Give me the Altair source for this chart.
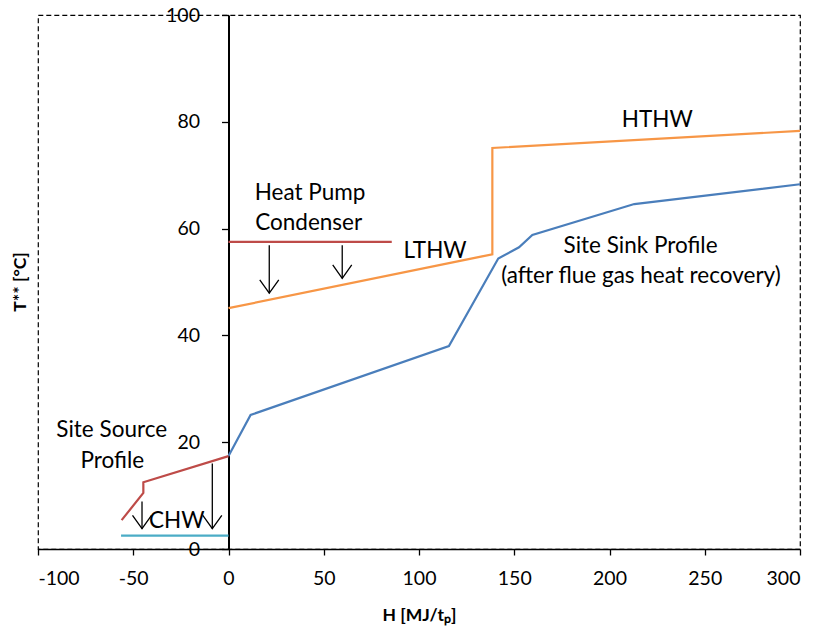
import altair as alt
import pandas as pd

# Site sink profile (after flue gas heat recovery)
sink_h = [0, 11.6, 115.7, 141.6, 152.5, 159.5, 213, 300]
sink_t = [17.4, 25.1, 38.0, 54.4, 56.5, 58.8, 64.6, 68.3]

# LTHW -> HTHW supply profile
water_h = [0, 138.5, 138.5, 300]
water_t = [45.1, 55.2, 75.1, 78.3]

# Site source profile
source_h = [0, -44.7, -44.7, -56.1]
source_t = [17.4, 12.5, 10.5, 5.4]

# Chilled water
chw_h = [-56.4, 0]
chw_t = [2.5, 2.5]

# Heat pump condenser
cond_h = [0, 85.7]
cond_t = [57.5, 57.5]

# Heat transfer arrows (shaft top and tip)
arrow_h = [21.4, 59.7, -45.4, -8.5]
arrow_top = [56.9, 56.9, 8.9, 16.0]
arrow_tip = [47.9, 50.7, 3.8, 3.8]

# Annotations (text baseline positions)
label_text = ["Heat Pump", "Condenser", "LTHW", "HTHW", "Site Sink Profile",
              "(after flue gas heat recovery)", "Site Source", "Profile", "CHW"]
label_h = [42.8, 42.1, 108.4, 225.1, 216.3, 216.5, -61.3, -61.0, -27.2]
label_t = [65.4, 59.7, 54.5, 79.0, 55.4, 49.9, 20.9, 15.2, 3.9]

series_names = ["sink", "water", "source", "chw", "cond"]
series_colors = ["#4A7EBB", "#F79646", "#BE4B48", "#4BACC6", "#BE4B48"]

rows = []
for name, hs, ts in zip(series_names,
                        [sink_h, water_h, source_h, chw_h, cond_h],
                        [sink_t, water_t, source_t, chw_t, cond_t]):
    for i, (h, t) in enumerate(zip(hs, ts)):
        rows.append({"series": name, "i": i, "H": h, "T": t})
lines_df = pd.DataFrame(rows)

arrows_df = pd.DataFrame({"H": arrow_h, "top": arrow_top, "tip": arrow_tip})
labels_df = pd.DataFrame({"label": label_text, "H": label_h, "T": label_t})

FONT = "Lato"

x_scale = alt.Scale(domain=[-100, 300], nice=False, zero=False)
y_scale = alt.Scale(domain=[0, 100], nice=False)

x_axis = alt.Axis(
    values=[-100, -50, 0, 50, 100, 150, 200, 250, 300],
    labelExpr="'' + datum.value",
    grid=False, labelFont=FONT, labelFontSize=19.5, labelColor="black",
    tickColor="black", tickSize=6, tickWidth=1.3,
    domainColor="black", domainWidth=1.5, labelPadding=14,
    title="H [MJ/tₚ]", titleFont=FONT, titleFontSize=17.5,
    titleFontWeight="bold", titleColor="black", titlePadding=19,
)
y_axis = alt.Axis(
    values=[0, 20, 40, 60, 80, 100],
    labelExpr="'' + datum.value", offset=-190.5,
    grid=False, labelFont=FONT, labelFontSize=19.5, labelColor="black",
    tickColor="black", tickSize=7, tickWidth=1.3,
    domainColor="black", domainWidth=2, labelPadding=22, title=None,
)

lines = alt.Chart(lines_df).mark_line(strokeWidth=2.2).encode(
    x=alt.X("H:Q", scale=x_scale, axis=x_axis),
    y=alt.Y("T:Q", scale=y_scale, axis=y_axis),
    color=alt.Color("series:N", scale=alt.Scale(domain=series_names, range=series_colors), legend=None),
    detail="series:N",
    order="i:Q",
)

shafts = alt.Chart(arrows_df).mark_rule(color="black", strokeWidth=1.3).encode(
    x=alt.X("H:Q", scale=x_scale, axis=x_axis),
    y=alt.Y("top:Q", scale=y_scale, axis=y_axis),
    y2="tip:Q",
)

heads = alt.Chart(arrows_df).mark_point(
    shape="M-1,-1.4L0,0L1,-1.4", size=361, filled=False,
    color="black", strokeWidth=1.3, opacity=1,
).encode(
    x=alt.X("H:Q", scale=x_scale, axis=x_axis),
    y=alt.Y("tip:Q", scale=y_scale, axis=y_axis),
)

labels = alt.Chart(labels_df).mark_text(
    font=FONT, fontSize=22.5, baseline="alphabetic", align="center", color="black",
).encode(
    x=alt.X("H:Q", scale=x_scale, axis=x_axis),
    y=alt.Y("T:Q", scale=y_scale, axis=y_axis),
    text="label:N",
)

y_title = alt.Chart(pd.DataFrame({"t": ["T** [°C]"]})).mark_text(
    font=FONT, fontSize=17.5, fontWeight="bold", angle=270, color="black",
    align="center", baseline="middle",
).encode(x=alt.value(-17), y=alt.value(267), text="t:N")

chart = alt.layer(lines, shafts, heads, labels, y_title).properties(
    width=762, height=534,
    autosize=alt.AutoSizeParams(type="none"),
    padding={"left": 38, "top": 15, "right": 22, "bottom": 84},
    background="white",
).configure_view(
    stroke="black", strokeWidth=1.2, strokeDash=[5, 3],
)

chart.save("out.html", embed_options={"renderer": "svg", "actions": False})
